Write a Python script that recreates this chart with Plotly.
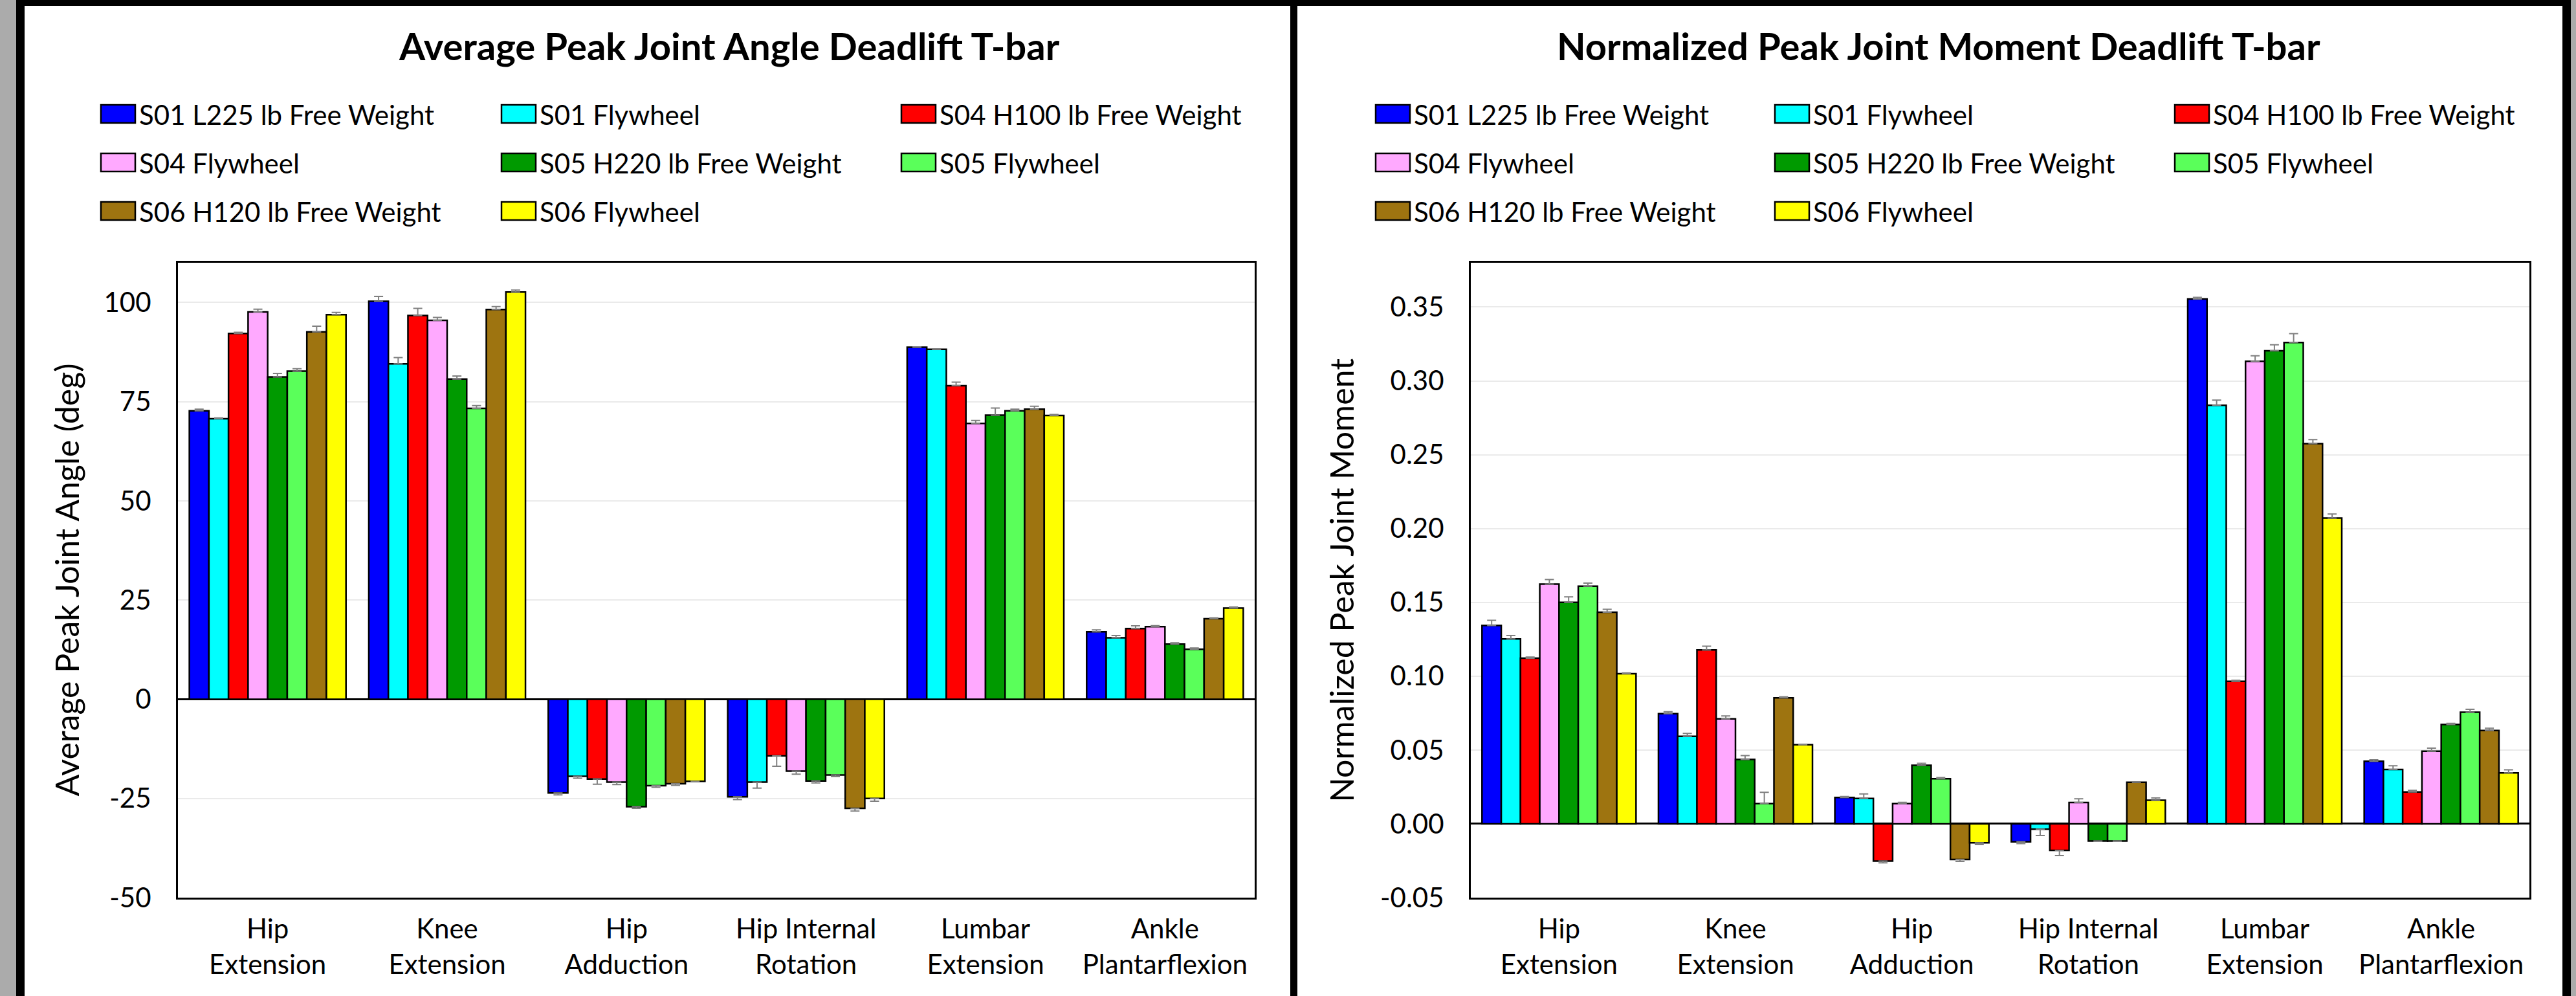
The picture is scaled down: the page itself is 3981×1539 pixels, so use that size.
import plotly.graph_objects as go

# ---------------- data ----------------
categories = ["Hip Extension", "Knee Extension", "Hip Adduction",
              "Hip Internal Rotation", "Lumbar Extension", "Ankle Plantarflexion"]

series_names = ["S01 L225 lb Free Weight", "S01 Flywheel", "S04 H100 lb Free Weight",
                "S04 Flywheel", "S05 H220 lb Free Weight", "S05 Flywheel",
                "S06 H120 lb Free Weight", "S06 Flywheel"]

series_colors = ["#0000FF", "#00FFFF", "#FF0000", "#FFA9FF",
                 "#009A00", "#5AFF5A", "#9E7410", "#FFFF00"]

# y tick values / labels (reference uses a plain hyphen for negatives)
angle_tickvals = [-50, -25, 0, 25, 50, 75, 100]
angle_ticktext = ["-50", "-25", "0", "25", "50", "75", "100"]
moment_tickvals = [-0.05, 0.0, 0.05, 0.10, 0.15, 0.20, 0.25, 0.30, 0.35]
moment_ticktext = ["-0.05", "0.00", "0.05", "0.10", "0.15", "0.20", "0.25", "0.30", "0.35"]

# Average peak joint angle (deg), one list per series (values per category)
angle_s01_fw = [72.7, 100.3, -23.6, -24.6, 88.7, 17.0]
angle_s01_fly = [70.7, 84.5, -19.4, -20.9, 88.2, 15.5]
angle_s04_fw = [92.2, 96.7, -20.1, -14.3, 79.0, 17.8]
angle_s04_fly = [97.6, 95.5, -20.9, -18.1, 69.5, 18.3]
angle_s05_fw = [81.2, 80.7, -27.1, -20.6, 71.6, 13.9]
angle_s05_fly = [82.7, 73.3, -21.8, -19.1, 72.7, 12.6]
angle_s06_fw = [92.6, 98.2, -21.3, -27.5, 73.1, 20.3]
angle_s06_fly = [96.9, 102.6, -20.7, -25.0, 71.5, 23.0]

angle_err_s01_fw = [0.4, 1.2, 0.5, 0.7, 0.1, 0.5]
angle_err_s01_fly = [0.2, 1.6, 0.5, 1.5, 0.1, 0.55]
angle_err_s04_fw = [0.25, 1.8, 1.3, 2.6, 0.9, 0.7]
angle_err_s04_fly = [0.7, 0.7, 0.6, 0.8, 0.75, 0.25]
angle_err_s05_fw = [0.9, 0.75, 0.4, 0.5, 1.8, 0.3]
angle_err_s05_fly = [0.6, 0.7, 0.4, 0.4, 0.4, 0.3]
angle_err_s06_fw = [1.4, 0.75, 0.4, 0.7, 0.75, 0.2]
angle_err_s06_fly = [0.6, 0.5, 0.1, 0.7, 0.25, 0.25]

# Normalized peak joint moment
moment_s01_fw = [0.1343, 0.0746, 0.0178, -0.0122, 0.3554, 0.0424]
moment_s01_fly = [0.1252, 0.0592, 0.0172, -0.0036, 0.2835, 0.0368]
moment_s04_fw = [0.1122, 0.1178, -0.0252, -0.0180, 0.0965, 0.0216]
moment_s04_fly = [0.1624, 0.0711, 0.0137, 0.0144, 0.3133, 0.0492]
moment_s05_fw = [0.1500, 0.0436, 0.0396, -0.0117, 0.3204, 0.0672]
moment_s05_fly = [0.1610, 0.0137, 0.0305, -0.0117, 0.3260, 0.0756]
moment_s06_fw = [0.1433, 0.0853, -0.0241, 0.0281, 0.2575, 0.0632]
moment_s06_fly = [0.1017, 0.0536, -0.0129, 0.0160, 0.2071, 0.0345]

moment_err_s01_fw = [0.0035, 0.0013, 0.0007, 0.0012, 0.0012, 0.0010]
moment_err_s01_fly = [0.0023, 0.0020, 0.0030, 0.0043, 0.0035, 0.0025]
moment_err_s04_fw = [0.0007, 0.0025, 0.0012, 0.0035, 0.0007, 0.0010]
moment_err_s04_fly = [0.0030, 0.0020, 0.0008, 0.0025, 0.0037, 0.0021]
moment_err_s05_fw = [0.0037, 0.0026, 0.0013, 0.0002, 0.0040, 0.0008]
moment_err_s05_fly = [0.0020, 0.0076, 0.0008, 0.0002, 0.0060, 0.0020]
moment_err_s06_fw = [0.0020, 0.0007, 0.0013, 0.0002, 0.0027, 0.0015]
moment_err_s06_fly = [0.0005, 0.0002, 0.0012, 0.0015, 0.0027, 0.0021]

angle_values = [angle_s01_fw, angle_s01_fly, angle_s04_fw, angle_s04_fly,
                angle_s05_fw, angle_s05_fly, angle_s06_fw, angle_s06_fly]
angle_errors = [angle_err_s01_fw, angle_err_s01_fly, angle_err_s04_fw, angle_err_s04_fly,
                angle_err_s05_fw, angle_err_s05_fly, angle_err_s06_fw, angle_err_s06_fly]
moment_values = [moment_s01_fw, moment_s01_fly, moment_s04_fw, moment_s04_fly,
                 moment_s05_fw, moment_s05_fly, moment_s06_fw, moment_s06_fly]
moment_errors = [moment_err_s01_fw, moment_err_s01_fly, moment_err_s04_fw, moment_err_s04_fly,
                 moment_err_s05_fw, moment_err_s05_fly, moment_err_s06_fw, moment_err_s06_fly]

left_title = "Average Peak Joint Angle Deadlift T-bar"
right_title = "Normalized Peak Joint Moment Deadlift T-bar"
left_ytitle = "Average Peak Joint Angle (deg)"
right_ytitle = "Normalized Peak Joint Moment"

# ---------------- layout helpers ----------------
W, H = 3981, 1539
FONT = "Lato, Carlito, Calibri, 'Liberation Sans', sans-serif"


def px(x):
    return x / W


def py(y_from_top):
    return (H - y_from_top) / H


tick_text = ["<br>".join(c.rsplit(" ", 1)) for c in categories]

fig = go.Figure()


def add_bars(values_list, errors_list, xaxis, yaxis):
    for name, color, vals, errs in zip(series_names, series_colors, values_list, errors_list):
        plus = [e if v >= 0 else 0 for v, e in zip(vals, errs)]
        minus = [e if v < 0 else 0 for v, e in zip(vals, errs)]
        fig.add_trace(go.Bar(
            x=categories, y=vals, name=name, showlegend=False,
            xaxis=xaxis, yaxis=yaxis,
            marker=dict(color=color, line=dict(color="black", width=2.5)),
            error_y=dict(type="data", symmetric=False, array=plus, arrayminus=minus,
                         color="#808080", thickness=2, width=7),
        ))


add_bars(angle_values, angle_errors, "x", "y")
add_bars(moment_values, moment_errors, "x2", "y2")

plot_top, plot_bot = 406, 1387
ydom = [py(plot_bot), py(plot_top)]

axis_font = dict(family=FONT, size=42, color="black")

common_x = dict(type="category", tickvals=categories, ticktext=tick_text,
                showline=True, mirror=True, linecolor="black", linewidth=3,
                ticks="outside", ticklen=10, tickcolor="rgba(0,0,0,0)",
                showgrid=False, tickfont=axis_font, automargin=False)
common_y = dict(showline=True, mirror=True, linecolor="black", linewidth=3,
                ticks="outside", ticklen=30, tickcolor="rgba(0,0,0,0)",
                showgrid=True, gridcolor="#EAEAEA", gridwidth=2,
                zeroline=True, zerolinecolor="black", zerolinewidth=3,
                tickfont=axis_font, automargin=False, tickmode="array")

fig.update_layout(
    width=W, height=H, autosize=False,
    margin=dict(l=0, r=0, t=0, b=0, pad=0, autoexpand=False),
    showlegend=False,
    paper_bgcolor="#ABABAB",
    plot_bgcolor="white",
    barmode="group", bargap=0.127, bargroupgap=0,
    xaxis=dict(domain=[px(275), px(1939)], anchor="y", **common_x),
    yaxis=dict(domain=ydom, anchor="x", range=[-50, 110],
               tickvals=angle_tickvals, ticktext=angle_ticktext, **common_y),
    xaxis2=dict(domain=[px(2273), px(3909)], anchor="y2", **common_x),
    yaxis2=dict(domain=ydom, anchor="x2", range=[-0.05, 0.38],
                tickvals=moment_tickvals, ticktext=moment_ticktext, **common_y),
)

shapes = []
# black frame and white panels
shapes.append(dict(type="rect", xref="paper", yref="paper", x0=px(25), x1=px(3973), y0=0, y1=1,
                   fillcolor="black", line=dict(width=0), layer="below"))
shapes.append(dict(type="rect", xref="paper", yref="paper", x0=px(38), x1=px(1994), y0=0, y1=py(9),
                   fillcolor="white", line=dict(width=0), layer="below"))
shapes.append(dict(type="rect", xref="paper", yref="paper", x0=px(2005), x1=px(3960), y0=0, y1=py(9),
                   fillcolor="white", line=dict(width=0), layer="below"))

annotations = []
# titles
annotations.append(dict(text="<b>" + left_title + "</b>", x=px(1127), y=py(70), xref="paper", yref="paper",
                        showarrow=False, xanchor="center", yanchor="middle",
                        font=dict(family=FONT, size=58, color="black")))
annotations.append(dict(text="<b>" + right_title + "</b>", x=px(2996), y=py(70), xref="paper", yref="paper",
                        showarrow=False, xanchor="center", yanchor="middle",
                        font=dict(family=FONT, size=58, color="black")))
# y-axis titles
ymid = py((plot_top + plot_bot) / 2)
annotations.append(dict(text=left_ytitle, x=px(102), y=ymid, xref="paper", yref="paper",
                        showarrow=False, textangle=-90, xanchor="center", yanchor="middle",
                        font=dict(family=FONT, size=50, color="black")))
annotations.append(dict(text=right_ytitle, x=px(2072), y=ymid, xref="paper", yref="paper",
                        showarrow=False, textangle=-90, xanchor="center", yanchor="middle",
                        font=dict(family=FONT, size=50, color="black")))

# legends (3 columns x 3 rows per panel)
legend_cols = {"left": [156, 775, 1393], "right": [2126, 2743, 3361]}
legend_rows = [176, 251, 326]
for panel in ("left", "right"):
    for i, (name, color) in enumerate(zip(series_names, series_colors)):
        cx = legend_cols[panel][i % 3]
        cy = legend_rows[i // 3]
        shapes.append(dict(type="rect", xref="paper", yref="paper",
                           x0=px(cx), x1=px(cx + 53), y0=py(cy + 14), y1=py(cy - 14),
                           fillcolor=color, line=dict(color="black", width=2.5)))
        annotations.append(dict(text=name, x=px(cx + 57), y=py(cy + 1), xref="paper", yref="paper",
                                showarrow=False, xanchor="left", yanchor="middle",
                                font=dict(family=FONT, size=42, color="black")))

fig.update_layout(shapes=shapes, annotations=annotations)

fig.write_html("out.html", config={"displayModeBar": False},
               post_script="document.body.style.margin='0';document.body.style.overflow='hidden';")
